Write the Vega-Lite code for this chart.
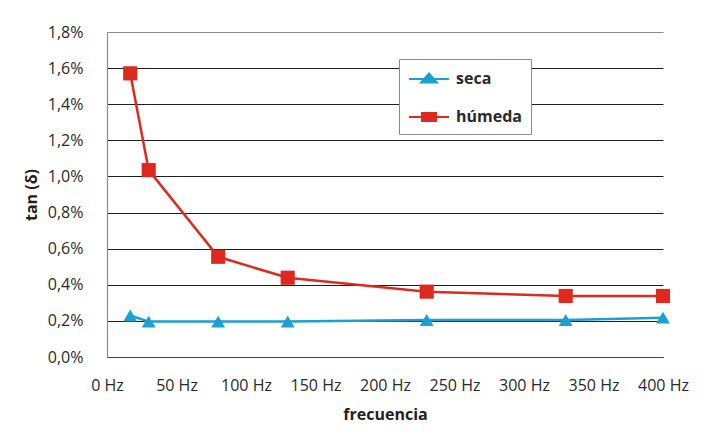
{
  "$schema": "https://vega.github.io/schema/vega-lite/v6.json",
  "width": 556,
  "height": 325,
  "autosize": {"type": "none"},
  "padding": {"left": 107, "top": 32, "right": 45, "bottom": 84},
  "background": "#ffffff",
  "config": {
    "font": "Open Sans",
    "view": {"stroke": null},
    "axis": {"labelFont": "Open Sans", "titleFont": "Open Sans"}
  },
  "data": {
    "values": [
      {"freq": 16.7, "tan": 0.23, "serie": "seca"},
      {"freq": 30, "tan": 0.196, "serie": "seca"},
      {"freq": 80, "tan": 0.196, "serie": "seca"},
      {"freq": 130, "tan": 0.196, "serie": "seca"},
      {"freq": 230, "tan": 0.205, "serie": "seca"},
      {"freq": 330, "tan": 0.205, "serie": "seca"},
      {"freq": 400, "tan": 0.218, "serie": "seca"},
      {"freq": 16.7, "tan": 1.571, "serie": "húmeda"},
      {"freq": 30, "tan": 1.035, "serie": "húmeda"},
      {"freq": 80, "tan": 0.555, "serie": "húmeda"},
      {"freq": 130, "tan": 0.439, "serie": "húmeda"},
      {"freq": 230, "tan": 0.362, "serie": "húmeda"},
      {"freq": 330, "tan": 0.338, "serie": "húmeda"},
      {"freq": 400, "tan": 0.338, "serie": "húmeda"}
    ]
  },
  "encoding": {
    "x": {
      "field": "freq",
      "type": "quantitative",
      "scale": {"domain": [0, 400], "nice": false, "zero": true},
      "axis": {
        "title": "frecuencia",
        "values": [0, 50, 100, 150, 200, 250, 300, 350, 400],
        "labelExpr": "datum.value + ' Hz'",
        "labelFlush": false,
        "labelOverlap": false,
        "ticks": false,
        "grid": false,
        "domainColor": "#444444",
        "domainWidth": 1.2,
        "labelFontSize": 16,
        "labelColor": "#2a2a2a",
        "labelPadding": 20,
        "titleFontSize": 16,
        "titleFontWeight": "bold",
        "titleColor": "#222222",
        "titlePadding": 13
      }
    },
    "y": {
      "field": "tan",
      "type": "quantitative",
      "scale": {"domain": [0, 1.8], "nice": false},
      "axis": {
        "title": "tan (δ)",
        "values": [0, 0.2, 0.4, 0.6, 0.8, 1.0, 1.2, 1.4, 1.6, 1.8],
        "labelExpr": "replace(format(datum.value, '.1f'), '.', ',') + '%'",
        "ticks": false,
        "grid": true,
        "gridColor": {"condition": {"test": "datum.value >= 1.79", "value": "#8a8a8a"}, "value": "#1e1e1e"},
        "gridWidth": 1,
        "domainColor": "#8a8a8a",
        "domainWidth": 1.2,
        "labelFontSize": 16,
        "labelColor": "#2a2a2a",
        "labelPadding": 24,
        "titleFontSize": 16,
        "titleFontWeight": "bold",
        "titleColor": "#222222",
        "titlePadding": 8
      }
    }
  },
  "layer": [
    {
      "mark": {"type": "line", "strokeWidth": 2.5},
      "encoding": {
        "color": {
          "field": "serie",
          "type": "nominal",
          "scale": {"domain": ["seca", "húmeda"], "range": ["#1aa0d2", "#de2a1e"]},
          "legend": {
            "title": null,
            "orient": "none",
            "legendX": 292,
            "legendY": 27,
            "strokeColor": "#8a8a8a",
            "fillColor": "#ffffff",
            "padding": 9,
            "rowPadding": 19,
            "symbolSize": 400,
            "symbolStrokeWidth": 2,
            "labelFontSize": 16,
            "labelFontWeight": "bold",
            "labelColor": "#2a2a2a",
            "labelOffset": 26,
            "encode": {
              "symbols": {
                "update": {
                  "shape": {"signal": "datum.value === 'seca' ? 'M-1,0H3M0.22,0.35L1,-0.55L1.78,0.35Z' : 'M-1,0H3M0.3,-0.4H1.7V0.4H0.3Z'"},
                  "fill": {"signal": "datum.value === 'seca' ? '#1aa0d2' : '#de2a1e'"},
                  "stroke": {"signal": "datum.value === 'seca' ? '#1aa0d2' : '#de2a1e'"},
                  "strokeWidth": {"value": 2},
                  "opacity": {"value": 1}
                }
              }
            }
          }
        }
      }
    },
    {
      "transform": [{"filter": "datum.serie === 'seca'"}],
      "mark": {"type": "point", "shape": "triangle-up", "filled": true, "opacity": 1, "size": 190},
      "encoding": {
        "color": {"field": "serie", "type": "nominal", "legend": null}
      }
    },
    {
      "transform": [{"filter": "datum.serie === 'húmeda'"}],
      "mark": {"type": "point", "shape": "square", "filled": true, "opacity": 1, "size": 200},
      "encoding": {
        "color": {"field": "serie", "type": "nominal", "legend": null}
      }
    }
  ]
}
